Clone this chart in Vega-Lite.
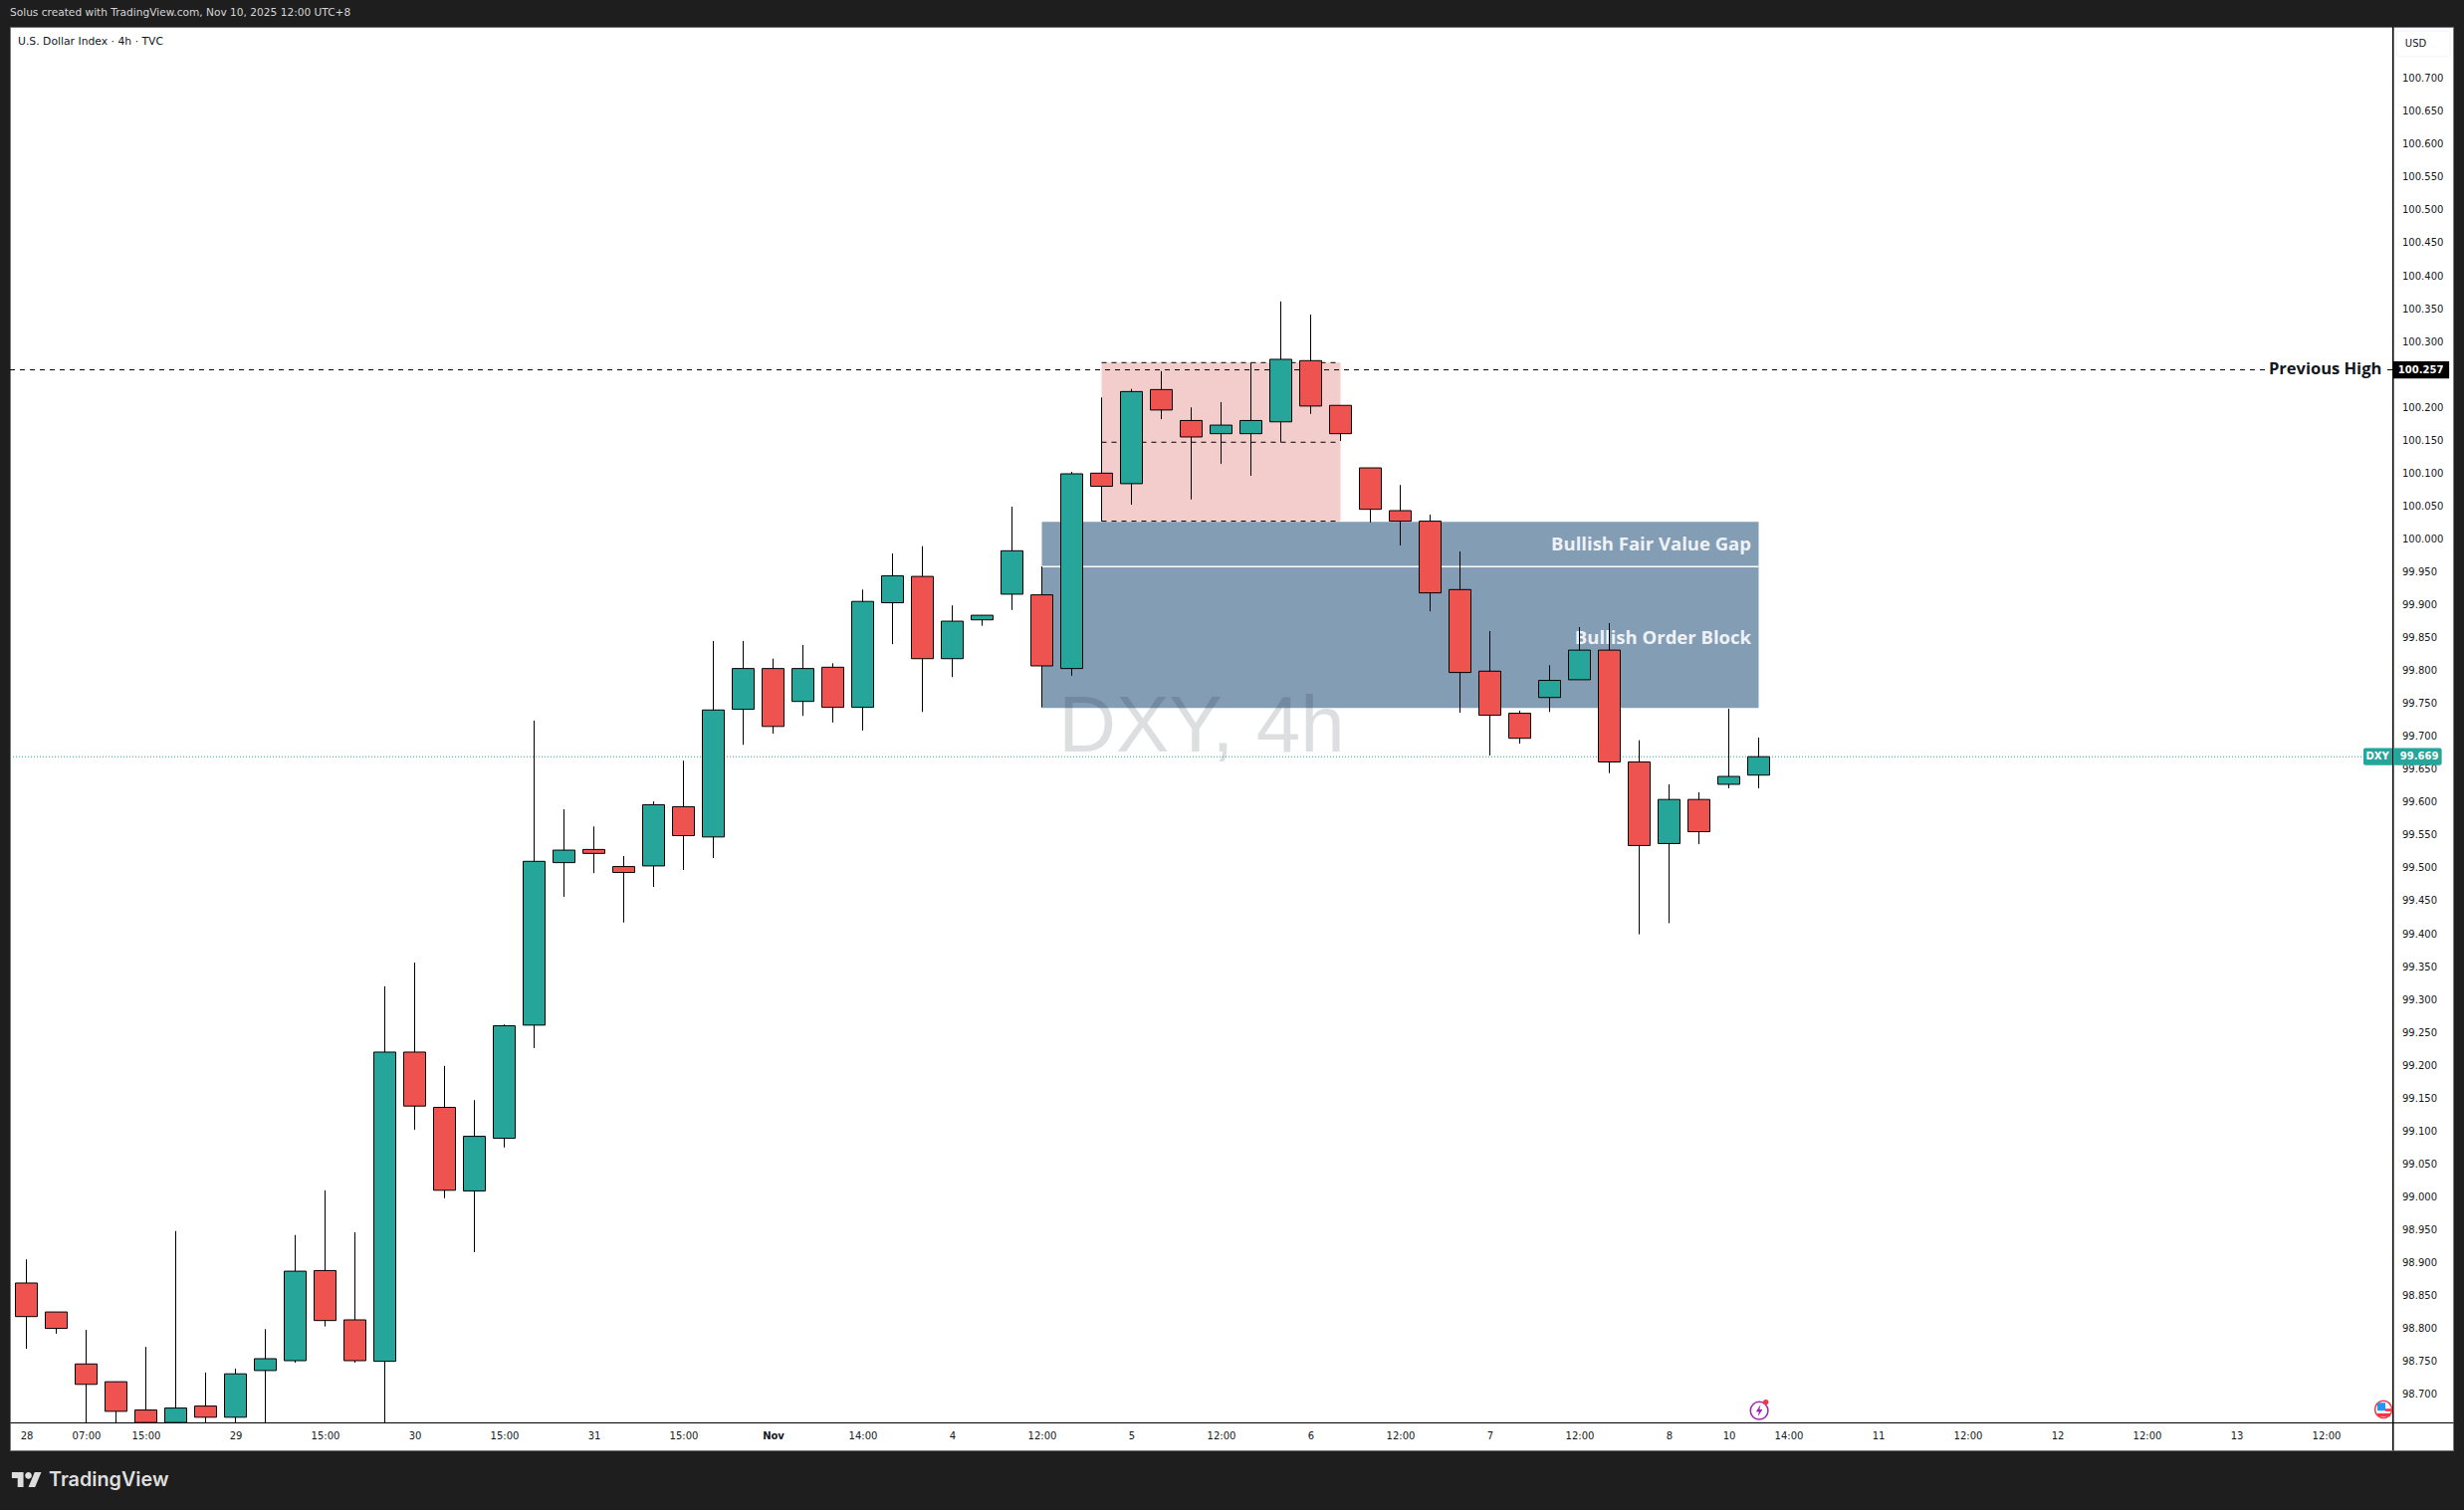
{"$schema":"https://vega.github.io/schema/vega-lite/v6.json","width":2454,"height":1430,"autosize":"none","padding":{"left":10,"top":27,"right":11,"bottom":60},"background":"#1e1e1e","view":{"fill":"#ffffff","stroke":"#7a7a7a"},"title":{"text":"Solus created with TradingView.com, Nov 10, 2025 12:00 UTC+8","anchor":"start","frame":"group","offset":8,"fontSize":10.6,"fontWeight":"normal","font":"DejaVu Sans","color":"#d6d6d6"},
"datasets":{
"candles":[
{"i":0,"o":98.869,"h":98.905,"l":98.769,"c":98.818},{"i":1,"o":98.825,"h":98.825,"l":98.792,"c":98.800},{"i":2,"o":98.746,"h":98.798,"l":98.657,"c":98.715},{"i":3,"o":98.719,"h":98.719,"l":98.657,"c":98.674},{"i":4,"o":98.676,"h":98.772,"l":98.657,"c":98.657},{"i":5,"o":98.657,"h":98.948,"l":98.657,"c":98.679},{"i":6,"o":98.682,"h":98.733,"l":98.657,"c":98.665},{"i":7,"o":98.665,"h":98.739,"l":98.657,"c":98.731},{"i":8,"o":98.736,"h":98.799,"l":98.657,"c":98.754},{"i":9,"o":98.751,"h":98.942,"l":98.748,"c":98.887},
{"i":10,"o":98.888,"h":99.010,"l":98.803,"c":98.812},{"i":11,"o":98.813,"h":98.946,"l":98.748,"c":98.751},{"i":12,"o":98.750,"h":99.320,"l":98.657,"c":99.220},{"i":13,"o":99.220,"h":99.356,"l":99.102,"c":99.138},{"i":14,"o":99.136,"h":99.199,"l":98.998,"c":99.010},{"i":15,"o":99.009,"h":99.147,"l":98.916,"c":99.092},{"i":16,"o":99.089,"h":99.262,"l":99.075,"c":99.260},{"i":17,"o":99.261,"h":99.724,"l":99.226,"c":99.510},{"i":18,"o":99.508,"h":99.589,"l":99.456,"c":99.527},{"i":19,"o":99.528,"h":99.563,"l":99.492,"c":99.522},
{"i":20,"o":99.502,"h":99.518,"l":99.417,"c":99.493},{"i":21,"o":99.503,"h":99.601,"l":99.471,"c":99.596},{"i":22,"o":99.593,"h":99.663,"l":99.497,"c":99.549},{"i":23,"o":99.547,"h":99.845,"l":99.515,"c":99.740},{"i":24,"o":99.741,"h":99.845,"l":99.687,"c":99.803},{"i":25,"o":99.803,"h":99.818,"l":99.704,"c":99.715},{"i":26,"o":99.753,"h":99.839,"l":99.731,"c":99.803},{"i":27,"o":99.805,"h":99.811,"l":99.721,"c":99.744},{"i":28,"o":99.744,"h":99.923,"l":99.709,"c":99.905},{"i":29,"o":99.903,"h":99.978,"l":99.840,"c":99.944},
{"i":30,"o":99.943,"h":99.989,"l":99.737,"c":99.818},{"i":31,"o":99.818,"h":99.899,"l":99.790,"c":99.875},{"i":32,"o":99.877,"h":99.884,"l":99.868,"c":99.884},{"i":33,"o":99.916,"h":100.049,"l":99.892,"c":99.982},{"i":34,"o":99.915,"h":99.958,"l":99.744,"c":99.807},{"i":35,"o":99.803,"h":100.102,"l":99.792,"c":100.099},{"i":36,"o":100.100,"h":100.215,"l":100.027,"c":100.080},{"i":37,"o":100.084,"h":100.228,"l":100.052,"c":100.224},{"i":38,"o":100.227,"h":100.255,"l":100.182,"c":100.196},{"i":39,"o":100.180,"h":100.200,"l":100.060,"c":100.155},
{"i":40,"o":100.160,"h":100.208,"l":100.114,"c":100.173},{"i":41,"o":100.160,"h":100.268,"l":100.096,"c":100.180},{"i":42,"o":100.178,"h":100.361,"l":100.147,"c":100.273},{"i":43,"o":100.271,"h":100.341,"l":100.190,"c":100.202},{"i":44,"o":100.203,"h":100.203,"l":100.149,"c":100.160},{"i":45,"o":100.108,"h":100.108,"l":100.025,"c":100.045},{"i":46,"o":100.043,"h":100.082,"l":99.990,"c":100.027},{"i":47,"o":100.027,"h":100.037,"l":99.890,"c":99.918},{"i":48,"o":99.923,"h":99.981,"l":99.736,"c":99.797},{"i":49,"o":99.799,"h":99.860,"l":99.671,"c":99.732},
{"i":50,"o":99.735,"h":99.739,"l":99.689,"c":99.697},{"i":51,"o":99.759,"h":99.808,"l":99.737,"c":99.785},{"i":52,"o":99.786,"h":99.866,"l":99.786,"c":99.831},{"i":53,"o":99.831,"h":99.872,"l":99.644,"c":99.661},{"i":54,"o":99.661,"h":99.694,"l":99.399,"c":99.534},{"i":55,"o":99.537,"h":99.627,"l":99.416,"c":99.604},{"i":56,"o":99.604,"h":99.615,"l":99.536,"c":99.555},{"i":57,"o":99.627,"h":99.742,"l":99.621,"c":99.639},{"i":58,"o":99.641,"h":99.698,"l":99.621,"c":99.669}],
"dashes":[{"i":-0.55,"i2":74.95,"p":100.257},{"i":79.05,"i2":79.233,"p":100.257},{"i":36,"i2":44,"p":100.268},{"i":36,"i2":44,"p":100.147},{"i":36,"i2":44,"p":100.027}]
},
"layer":[
{"data":{"values":[{"i":36,"i2":44,"p":100.268,"p2":100.027}]},"mark":{"type":"rect","color":"#f3cccc"},"encoding":{
"x":{"field":"i","type":"quantitative","title":null,"scale":{"domain":[-0.55,81.25],"nice":false,"zero":false,"padding":0},"axis":{"values":[0,2,4,7,10,13,16,19,22,25,28,31,34,37,40,43,46,49,52,55,57,59,62,65,68,71,74,77],"tickCount":60,"labelExpr":"{'0':'28','2':'07:00','4':'15:00','7':'29','10':'15:00','13':'30','16':'15:00','19':'31','22':'15:00','25':'Nov','28':'14:00','31':'4','34':'12:00','37':'5','40':'12:00','43':'6','46':'12:00','49':'7','52':'12:00','55':'8','57':'10','59':'14:00','62':'11','65':'12:00','68':'12','71':'12:00','74':'13','77':'12:00'}[''+datum.value]","offset":-28,"grid":false,"ticks":false,"domainColor":"#000000","domainWidth":1,"labelFont":"DejaVu Sans","labelFontSize":10,"labelColor":"#131722","labelPadding":8,"labelOverlap":false,"labelBound":false,"labelFlush":false,"labelFontWeight":{"condition":{"test":"datum.value==25","value":"bold"},"value":"normal"}}},
"x2":{"field":"i2"},
"y":{"field":"p","type":"quantitative","title":null,"scale":{"domain":[98.6148,100.7783],"nice":false,"zero":false,"padding":0},"axis":{"orient":"right","values":[98.7,98.75,98.8,98.85,98.9,98.95,99,99.05,99.1,99.15,99.2,99.25,99.3,99.35,99.4,99.45,99.5,99.55,99.6,99.65,99.7,99.75,99.8,99.85,99.9,99.95,100,100.05,100.1,100.15,100.2,100.3,100.35,100.4,100.45,100.5,100.55,100.6,100.65,100.7],"tickCount":60,"format":".3f","offset":-60.5,"grid":false,"ticks":false,"domainColor":"#000000","domainWidth":1,"labelFont":"DejaVu Sans","labelFontSize":10,"labelColor":"#131722","labelPadding":9,"labelOverlap":false,"labelBound":false,"labelFlush":false}},
"y2":{"field":"p2"}}},
{"data":{"values":[{"i":34,"i2":58,"p":100.026,"p2":99.743}]},"mark":{"type":"rect","color":"#839db5"},"encoding":{"x":{"field":"i","type":"quantitative","title":null},"x2":{"field":"i2"},"y":{"field":"p","type":"quantitative","title":null},"y2":{"field":"p2"}}},
{"data":{"values":[{"i":34,"i2":58,"p":99.958}]},"mark":{"type":"rule","color":"#ffffff","strokeWidth":1.5},"encoding":{"x":{"field":"i","type":"quantitative","title":null},"x2":{"field":"i2"},"y":{"field":"p","type":"quantitative","title":null}}},
{"data":{"values":[{"label":"DXY, 4h","i":39.35,"p":99.677}]},"mark":{"type":"text","font":"Liberation Sans","fontSize":80,"align":"center","baseline":"alphabetic","color":"#0a0f1e","opacity":0.135},"encoding":{"x":{"field":"i","type":"quantitative","title":null},"y":{"field":"p","type":"quantitative","title":null},"text":{"field":"label"}}},
{"data":{"values":[{"i":-0.55,"i2":79.233,"p":99.669}]},"mark":{"type":"rule","color":"#26a69a","strokeWidth":1,"strokeDash":[1,2]},"encoding":{"x":{"field":"i","type":"quantitative","title":null},"x2":{"field":"i2"},"y":{"field":"p","type":"quantitative","title":null}}},
{"data":{"name":"dashes"},"mark":{"type":"rule","color":"#000000","strokeWidth":1,"strokeDash":[5,5]},"encoding":{"x":{"field":"i","type":"quantitative","title":null},"x2":{"field":"i2"},"y":{"field":"p","type":"quantitative","title":null}}},
{"data":{"values":[{"label":"Bullish Fair Value Gap","i":57.75,"p":99.991},{"label":"Bullish Order Block","i":57.75,"p":99.849}]},"mark":{"type":"text","font":"Open Sans","fontSize":18.5,"fontWeight":"bold","align":"right","baseline":"middle","color":"#eef2f6"},"encoding":{"x":{"field":"i","type":"quantitative","title":null},"y":{"field":"p","type":"quantitative","title":null},"text":{"field":"label"}}},
{"data":{"name":"candles"},"mark":{"type":"rule","color":"#000000","strokeWidth":1},"encoding":{"x":{"field":"i","type":"quantitative","title":null},"y":{"field":"l","type":"quantitative","title":null},"y2":{"field":"h"}}},
{"data":{"name":"candles"},"mark":{"type":"bar","size":22,"stroke":"#000000","strokeWidth":1},"encoding":{"x":{"field":"i","type":"quantitative","title":null},"y":{"field":"o","type":"quantitative","title":null},"y2":{"field":"c"},"color":{"condition":{"test":"datum.c>=datum.o","value":"#26a69a"},"value":"#ef5350"}}},
{"data":{"values":[{"label":"Previous High","i":75.08,"p":100.2576}]},"mark":{"type":"text","font":"Open Sans","fontSize":16.5,"fontWeight":"bold","align":"left","baseline":"middle","color":"#131722"},"encoding":{"x":{"field":"i","type":"quantitative","title":null},"y":{"field":"p","type":"quantitative","title":null},"text":{"field":"label"}}},
{"data":{"values":[{"label":"U.S. Dollar Index · 4h · TVC","i":-0.283,"p":100.756}]},"mark":{"type":"text","font":"DejaVu Sans","fontSize":10.8,"align":"left","baseline":"middle","color":"#131722"},"encoding":{"x":{"field":"i","type":"quantitative","title":null},"y":{"field":"p","type":"quantitative","title":null},"text":{"field":"label"}}},
{"data":{"values":[{"i":79.22,"i2":81.12,"p":100.27,"p2":100.244}]},"mark":{"type":"rect","color":"#000000"},"encoding":{"x":{"field":"i","type":"quantitative","title":null},"x2":{"field":"i2"},"y":{"field":"p","type":"quantitative","title":null},"y2":{"field":"p2"}}},
{"data":{"values":[{"i":78.25,"i2":80.87,"p":99.682,"p2":99.656}]},"mark":{"type":"rect","color":"#26a69a","cornerRadius":2},"encoding":{"x":{"field":"i","type":"quantitative","title":null},"x2":{"field":"i2"},"y":{"field":"p","type":"quantitative","title":null},"y2":{"field":"p2"}}},
{"data":{"values":[{"i":79.233,"p":98.6148,"p2":100.7783}]},"mark":{"type":"rule","color":"#000000","strokeWidth":1},"encoding":{"x":{"field":"i","type":"quantitative","title":null},"y":{"field":"p","type":"quantitative","title":null},"y2":{"field":"p2"}}},
{"data":{"values":[{"i":79.35,"i2":81.15,"p":100.772,"p2":100.733}]},"mark":{"type":"rect","fill":"#ffffff","stroke":"#f0f3fa","strokeWidth":1,"cornerRadius":4},"encoding":{"x":{"field":"i","type":"quantitative","title":null},"x2":{"field":"i2"},"y":{"field":"p","type":"quantitative","title":null},"y2":{"field":"p2"}}},
{"data":{"values":[{"label":"USD","i":80.0,"p":100.753}]},"mark":{"type":"text","font":"DejaVu Sans","fontSize":10,"align":"center","baseline":"middle","color":"#131722"},"encoding":{"x":{"field":"i","type":"quantitative","title":null},"y":{"field":"p","type":"quantitative","title":null},"text":{"field":"label"}}},
{"data":{"values":[{"label":"100.257","i":80.17,"p":100.257},{"label":"DXY","i":78.72,"p":99.669},{"label":"99.669","i":80.12,"p":99.669}]},"mark":{"type":"text","font":"DejaVu Sans","fontSize":10,"fontWeight":"bold","align":"center","baseline":"middle","color":"#ffffff"},"encoding":{"x":{"field":"i","type":"quantitative","title":null},"y":{"field":"p","type":"quantitative","title":null},"text":{"field":"label"}}},
{"data":{"values":[{"i":58.02,"p":98.675}]},"mark":{"type":"point","shape":"circle","size":314,"filled":false,"stroke":"#9c27b0","strokeWidth":1.5,"opacity":1},"encoding":{"x":{"field":"i","type":"quantitative","title":null},"y":{"field":"p","type":"quantitative","title":null}}},
{"data":{"values":[{"i":58.02,"p":98.675}]},"mark":{"type":"point","shape":"M0.2,-0.9 L-0.5,0.15 L-0.05,0.15 L-0.2,0.9 L0.5,-0.2 L0.05,-0.2 Z","size":170,"filled":true,"color":"#9c27b0","opacity":1},"encoding":{"x":{"field":"i","type":"quantitative","title":null},"y":{"field":"p","type":"quantitative","title":null}}},
{"data":{"values":[{"i":58.24,"p":98.688}]},"mark":{"type":"point","shape":"circle","size":30,"filled":true,"color":"#f23645","opacity":1},"encoding":{"x":{"field":"i","type":"quantitative","title":null},"y":{"field":"p","type":"quantitative","title":null}}},
{"data":{"values":[{"i":78.92,"p":98.677}]},"mark":{"type":"point","shape":"circle","size":290,"filled":false,"stroke":"#f23645","strokeWidth":1.5,"opacity":1},"encoding":{"x":{"field":"i","type":"quantitative","title":null},"y":{"field":"p","type":"quantitative","title":null}}},
{"data":{"values":[{"i":78.98,"i2":79.22,"p":98.678,"p2":98.674},{"i":78.72,"i2":79.15,"p":98.671,"p2":98.666}]},"mark":{"type":"rect","color":"#f23645"},"encoding":{"x":{"field":"i","type":"quantitative","title":null},"x2":{"field":"i2"},"y":{"field":"p","type":"quantitative","title":null},"y2":{"field":"p2"}}},
{"data":{"values":[{"i":78.85,"p":98.681}]},"mark":{"type":"point","shape":"square","size":64,"filled":true,"color":"#2196f3","opacity":1},"encoding":{"x":{"field":"i","type":"quantitative","title":null},"y":{"field":"p","type":"quantitative","title":null}}},
{"data":{"values":[{"i":0.013,"p":98.57}]},"mark":{"type":"point","shape":"M-0.222,0.5 H-0.611 V-0.111 H-1 V-0.5 H-0.222 Z M0.556,0.5 H0.111 L0.528,-0.5 H0.972 Z M-0.111,-0.278 A0.222,0.222 0 1,0 0.333,-0.278 A0.222,0.222 0 1,0 -0.111,-0.278 Z","size":900,"filled":true,"color":"#dedede","opacity":1},"encoding":{"x":{"field":"i","type":"quantitative","title":null},"y":{"field":"p","type":"quantitative","title":null}}},
{"data":{"values":[{"label":"TradingView","i":0.75,"p":98.569}]},"mark":{"type":"text","font":"Inter","fontSize":19.8,"fontWeight":600,"align":"left","baseline":"middle","color":"#dedede"},"encoding":{"x":{"field":"i","type":"quantitative","title":null},"y":{"field":"p","type":"quantitative","title":null},"text":{"field":"label"}}}
]}
